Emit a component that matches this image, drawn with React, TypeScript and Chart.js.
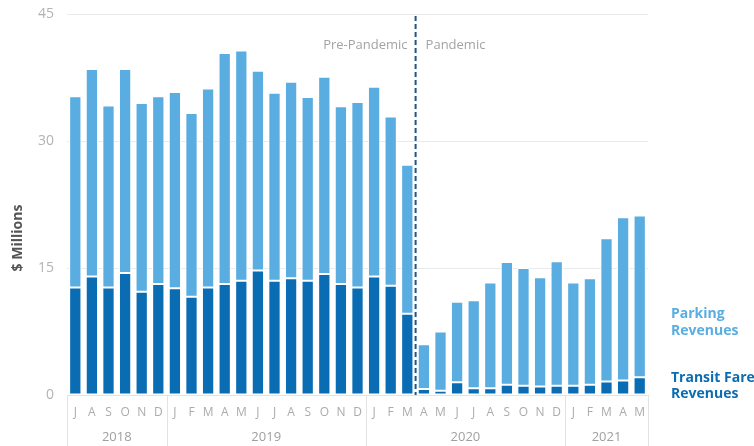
import React, { useEffect, useRef } from "react";
import { Chart, registerables } from "chart.js";

Chart.register(...registerables);

const months = [
  "J", "A", "S", "O", "N", "D",
  "J", "F", "M", "A", "M", "J", "J", "A", "S", "O", "N", "D",
  "J", "F", "M", "A", "M", "J", "J", "A", "S", "O", "N", "D",
  "J", "F", "M", "A", "M",
];
const years = ["2018", "2019", "2020", "2021"];
const yearCounts = [6, 12, 12, 5];

const transitFare = [
  12.7, 14.0, 12.7, 14.4, 12.2, 13.1,
  12.6, 11.6, 12.7, 13.1, 13.5, 14.7, 13.5, 13.8, 13.5, 14.3, 13.1, 12.7,
  14.0, 12.9, 9.6, 0.7, 0.5, 1.5, 0.8, 0.8, 1.2, 1.1, 1.0, 1.1,
  1.1, 1.2, 1.6, 1.7, 2.1,
];
const parking = [
  22.6, 24.5, 21.5, 24.1, 22.3, 22.2,
  23.2, 21.7, 23.5, 27.3, 27.2, 23.6, 22.2, 23.2, 21.7, 23.3, 21.0, 21.9,
  22.4, 20.0, 17.6, 5.3, 7.0, 9.5, 10.4, 12.5, 14.5, 13.9, 12.9, 14.7,
  12.2, 12.6, 16.9, 19.3, 19.1,
];
const yTicks = [0, 15, 30, 45];
const pandemicStartIndex = 21;

const FONT = "'Open Sans', 'Noto Sans', sans-serif";
const LIGHT = "#5aade0";
const DARK = "#0a6db4";

const overlayPlugin = {
  id: "overlay",
  afterDatasetsDraw(chart: any) {
    const { ctx, chartArea, scales } = chart;
    const x = scales.x;
    const half = (x.getPixelForValue(1) - x.getPixelForValue(0)) / 2;
    const bx = x.getPixelForValue(pandemicStartIndex) - half;
    ctx.save();
    ctx.strokeStyle = "#1d5588";
    ctx.lineWidth = 2;
    ctx.setLineDash([5, 3]);
    ctx.beginPath();
    ctx.moveTo(bx, chartArea.top + 2);
    ctx.lineTo(bx, chartArea.bottom);
    ctx.stroke();
    ctx.setLineDash([]);
    ctx.font = `13px ${FONT}`;
    ctx.fillStyle = "#a3a3a3";
    ctx.textBaseline = "middle";
    ctx.textAlign = "right";
    ctx.fillText("Pre-Pandemic", bx - 8, 45);
    ctx.textAlign = "left";
    ctx.fillText("Pandemic", bx + 10, 45);
    ctx.restore();
  },
  afterDraw(chart: any) {
    const { ctx, chartArea, scales } = chart;
    const x = scales.x;
    const half = (x.getPixelForValue(1) - x.getPixelForValue(0)) / 2;
    ctx.save();
    ctx.strokeStyle = "#e3e3e3";
    ctx.lineWidth = 1;
    let idx = 0;
    const bottom = chart.height;
    const drawSep = (px: number) => {
      ctx.beginPath();
      ctx.moveTo(Math.round(px) + 0.5, chartArea.bottom);
      ctx.lineTo(Math.round(px) + 0.5, bottom);
      ctx.stroke();
    };
    drawSep(x.getPixelForValue(0) - half);
    ctx.font = `13px ${FONT}`;
    ctx.fillStyle = "#a0a0a0";
    ctx.textAlign = "center";
    ctx.textBaseline = "middle";
    years.forEach((yr, i) => {
      const start = idx;
      const end = idx + yearCounts[i] - 1;
      const left = x.getPixelForValue(start) - half;
      const right = x.getPixelForValue(end) + half;
      drawSep(right);
      ctx.fillText(yr, (left + right) / 2, 437);
      idx += yearCounts[i];
    });
    ctx.save();
    ctx.translate(18, 238);
    ctx.rotate(-Math.PI / 2);
    ctx.font = `bold 14px ${FONT}`;
    ctx.fillStyle = "#555555";
    ctx.textAlign = "center";
    ctx.textBaseline = "middle";
    ctx.fillText("$ Millions", 0, 0);
    ctx.restore();
    ctx.font = `bold 14px ${FONT}`;
    ctx.textAlign = "left";
    ctx.textBaseline = "middle";
    ctx.fillStyle = LIGHT;
    ctx.fillText("Parking", 671, 314);
    ctx.fillText("Revenues", 671, 331);
    ctx.fillStyle = DARK;
    ctx.fillText("Transit Fare", 671, 378);
    ctx.fillText("Revenues", 671, 394);
    ctx.restore();
  },
};

export default function App() {
  const ref = useRef<HTMLCanvasElement | null>(null);
  useEffect(() => {
    document.body.style.margin = "0";
    if (!ref.current) return;
    const chart = new Chart(ref.current, {
      type: "bar",
      data: {
        labels: months,
        datasets: [
          {
            label: "Transit Fare Revenues",
            data: transitFare,
            backgroundColor: DARK,
            borderColor: "#ffffff",
            borderWidth: 1,
            borderSkipped: false,
            barPercentage: 0.74,
            categoryPercentage: 1,
          },
          {
            label: "Parking Revenues",
            data: parking,
            backgroundColor: LIGHT,
            borderColor: "#ffffff",
            borderWidth: 1,
            borderSkipped: false,
            barPercentage: 0.74,
            categoryPercentage: 1,
          },
        ],
      },
      options: {
        responsive: false,
        animation: false,
        layout: { padding: { top: 14, right: 106, left: 0, bottom: 0 } },
        plugins: {
          legend: { display: false },
          tooltip: { enabled: false },
        },
        scales: {
          x: {
            stacked: true,
            grid: { display: false, drawTicks: false },
            border: { display: true, color: "#e3e3e3" },
            ticks: {
              color: "#ababab",
              font: { family: FONT, size: 12 },
              padding: 10,
              autoSkip: false,
              maxRotation: 0,
            },
            afterFit(scale: any) {
              scale.height = 51;
              scale.paddingLeft = 0;
              scale.paddingRight = 0;
            },
          },
          y: {
            stacked: true,
            min: 0,
            max: 45,
            afterBuildTicks(scale: any) {
              scale.ticks = yTicks.map((v) => ({ value: v }));
            },
            grid: {
              color: (c: any) => (c.tick && c.tick.value === 0 ? "rgba(0,0,0,0)" : "#e8ebed"),
              drawTicks: false,
            },
            border: { display: false },
            ticks: {
              color: "#b3b3b3",
              font: { family: FONT, size: 14 },
              padding: 13,
            },
            afterFit(scale: any) {
              scale.width = 67;
              scale.paddingTop = 0;
              scale.paddingBottom = 0;
            },
          },
        },
      },
      plugins: [overlayPlugin],
    });
    return () => chart.destroy();
  }, []);
  return (
    <div style={{ width: 754, height: 446 }}>
      <canvas ref={ref} width={754} height={446} style={{ display: "block" }} />
    </div>
  );
}
